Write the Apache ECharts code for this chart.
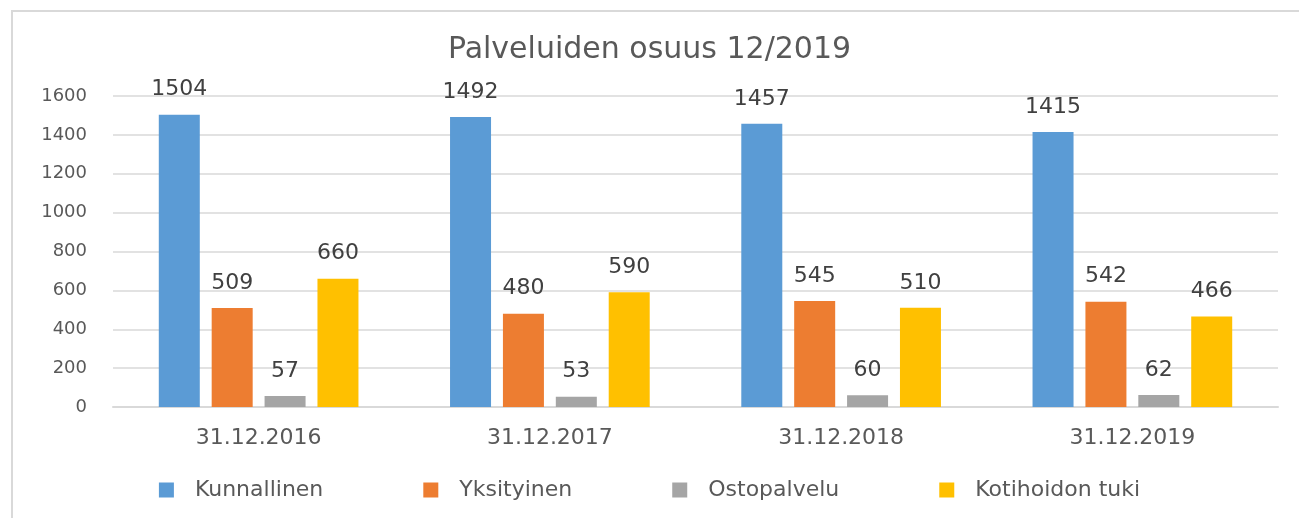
<!DOCTYPE html>
<html>
<head>
<meta charset="utf-8">
<script src="https://cdn.jsdelivr.net/npm/echarts@6/dist/echarts.min.js"></script>
<style>
  html, body { margin: 0; padding: 0; background: #fff; }
  #main { width: 1299px; height: 518px; }
</style>
</head>
<body>
<div id="main"></div>
<script>
  // data
  var categories = ['31.12.2016', '31.12.2017', '31.12.2018', '31.12.2019'];
  var kunnallinen = [1504, 1492, 1457, 1415];
  var yksityinen = [509, 480, 545, 542];
  var ostopalvelu = [57, 53, 60, 62];
  var kotihoidonTuki = [660, 590, 510, 466];
  var seriesNames = ['Kunnallinen', 'Yksityinen', 'Ostopalvelu', 'Kotihoidon tuki'];
  var colors = ['#5b9bd5', '#ed7d31', '#a5a5a5', '#ffc000'];

  var font = 'DejaVu Sans';

  function bar(name, data) {
    return {
      name: name,
      type: 'bar',
      data: data,
      barWidth: 41,
      barGap: '29%',
      label: {
        show: true,
        position: 'top',
        distance: 14,
        fontSize: 22,
        fontFamily: font,
        color: '#404040'
      }
    };
  }

  var chart = echarts.init(document.getElementById('main'));
  chart.setOption({
    animation: false,
    color: colors,
    title: {
      text: 'Palveluiden osuus 12/2019',
      left: 'center',
      top: 30,
      textStyle: { fontSize: 30, fontWeight: 'normal', fontFamily: font, color: '#595959' }
    },
    graphic: [{
      type: 'rect',
      shape: { x: 12, y: 11, width: 1300, height: 520 },
      style: { fill: 'none', stroke: '#d9d9d9', lineWidth: 2 },
      silent: true
    }],
    legend: {
      data: seriesNames,
      bottom: 12,
      left: 'center',
      itemWidth: 15,
      itemHeight: 15,
      itemGap: 100,
      icon: 'rect',
      textStyle: { fontSize: 22, fontFamily: font, color: '#595959', padding: [0, 0, 0, 16] }
    },
    grid: { left: 113, right: 21, top: 96, bottom: 111 },
    xAxis: {
      type: 'category',
      data: categories,
      axisLine: { lineStyle: { color: '#d9d9d9', width: 2 } },
      axisTick: { show: false },
      axisLabel: { fontSize: 22, fontFamily: font, color: '#595959', margin: 20 }
    },
    yAxis: {
      type: 'value',
      min: 0,
      max: 1600,
      interval: 200,
      axisLine: { show: false },
      axisTick: { show: false },
      splitLine: { lineStyle: { color: '#d9d9d9', width: 1.5 } },
      axisLabel: {
        fontSize: 18, fontFamily: font, color: '#595959', margin: 26,
        formatter: function (v) { return String(v); }
      }
    },
    series: [
      bar(seriesNames[0], kunnallinen),
      bar(seriesNames[1], yksityinen),
      bar(seriesNames[2], ostopalvelu),
      bar(seriesNames[3], kotihoidonTuki)
    ]
  });
</script>
</body>
</html>
